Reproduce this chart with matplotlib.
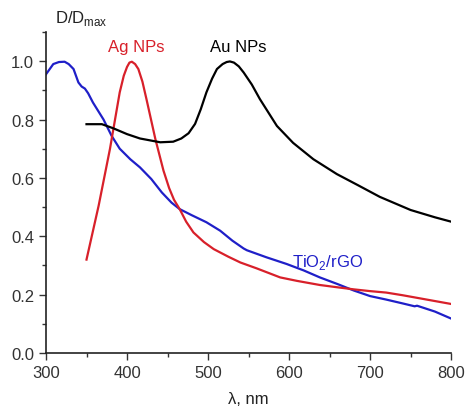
import numpy as np
import matplotlib
matplotlib.use("Agg")
import matplotlib.pyplot as plt
from matplotlib.ticker import MultipleLocator

plt.rcParams['font.family'] = ['Liberation Sans', 'DejaVu Sans']

# TiO2/rGO
wl_tio2 = [300, 309, 316, 323, 328, 334, 340, 344, 348, 352, 358, 371, 381, 391, 404, 416, 430,
           443, 455, 465, 480, 498, 515, 530, 544, 548, 572, 597, 618, 638, 660, 680, 700,
           720, 740, 755, 758, 780, 800]
d_tio2 = [0.955, 0.99, 0.997, 0.998, 0.99, 0.973, 0.927, 0.913, 0.906, 0.89, 0.858, 0.80, 0.744, 0.70, 0.664, 0.636, 0.596,
          0.55, 0.515, 0.493, 0.472, 0.448, 0.419, 0.385, 0.358, 0.352, 0.328, 0.305, 0.283, 0.259, 0.236, 0.214, 0.195,
          0.183, 0.17, 0.16, 0.162, 0.142, 0.118]

# Ag NPs
wl_ag = [350, 365, 379, 391, 396, 400, 403, 406, 410, 414, 419, 424, 435, 445, 452, 458, 465,
         473, 482, 495, 507, 525, 540, 560, 589, 610, 638, 660, 680, 700, 720, 740, 760, 780, 800]
d_ag = [0.32, 0.505, 0.70, 0.893, 0.95, 0.98, 0.995, 0.998, 0.99, 0.973, 0.93, 0.87, 0.733, 0.625, 0.565, 0.525, 0.493,
        0.45, 0.413, 0.38, 0.356, 0.33, 0.31, 0.29, 0.259, 0.247, 0.233, 0.225, 0.218, 0.212, 0.207, 0.198, 0.188, 0.178, 0.168]

# Au NPs
wl_au = [350, 369, 383, 400, 416, 441, 457, 467, 476, 484, 491, 498, 505, 511, 518, 523, 527, 532, 538, 544,
         554, 564, 585, 605, 630, 659, 685, 712, 750, 780, 800]
d_au = [0.784, 0.784, 0.77, 0.75, 0.735, 0.722, 0.724, 0.735, 0.753, 0.785, 0.835, 0.893, 0.94, 0.973, 0.99, 0.997, 0.999, 0.995, 0.982, 0.961,
        0.92, 0.87, 0.778, 0.72, 0.664, 0.613, 0.575, 0.535, 0.49, 0.465, 0.45]

fig = plt.figure(figsize=(4.66, 4.10), dpi=100)
ax = fig.add_axes([0.0987, 0.1366, 0.8693, 0.783])

ax.plot(wl_tio2, d_tio2, color='#1f1fc8', lw=1.6)
ax.plot(wl_ag, d_ag, color='#d8202a', lw=1.6)
ax.plot(wl_au, d_au, color='black', lw=1.6)

ax.set_xlim(300, 800)
ax.set_ylim(0, 1.1)
ax.set_xticks([300, 400, 500, 600, 700, 800])
ax.set_yticks([0.0, 0.2, 0.4, 0.6, 0.8, 1.0])
ax.xaxis.set_minor_locator(MultipleLocator(50))
ax.yaxis.set_minor_locator(MultipleLocator(0.1))
ax.tick_params(which='both', direction='out', labelsize=12, colors='#333333')
ax.tick_params(which='major', length=5, width=1)
ax.tick_params(which='minor', length=3, width=1)
ax.spines['top'].set_visible(False)
ax.spines['right'].set_visible(False)
for s in ['left', 'bottom']:
    ax.spines[s].set_linewidth(1.2)
    ax.spines[s].set_color('#222222')

fig.text(0.118, 0.955, 'D/D$_{\\mathregular{max}}$', fontsize=12, color='#222222', va='center')
ax.text(377, 1.05, 'Ag NPs', fontsize=12, color='#d8202a', ha='left', va='center')
ax.text(503, 1.05, 'Au NPs', fontsize=12, color='black', ha='left', va='center')
ax.text(604, 0.315, 'TiO$_\\mathregular{2}$/rGO', fontsize=12, color='#1f1fc8', ha='left', va='center')
ax.set_xlabel('λ, nm', fontsize=12, color='#222222', labelpad=8)

fig.savefig('out.png', dpi=100)
